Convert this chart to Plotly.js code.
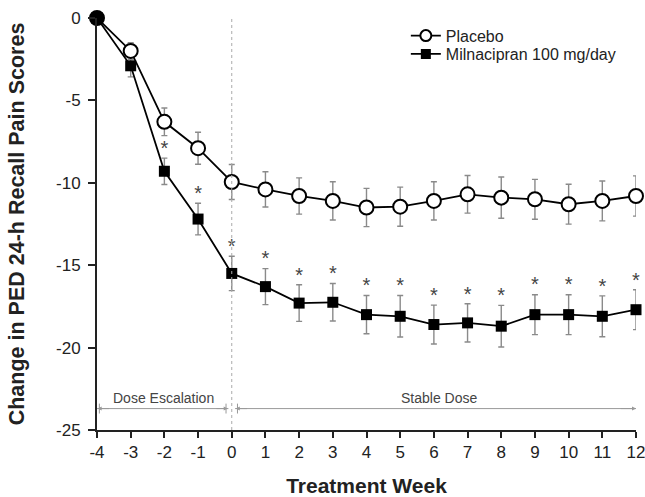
<!DOCTYPE html>
<html>
<head>
<meta charset="utf-8">
<script src="https://cdn.plot.ly/plotly-3.0.1.min.js"></script>
<style>html,body{margin:0;padding:0;background:#fff;}#chart{width:645px;height:497px;}</style>
</head>
<body>
<div id="chart"></div>
<script>
const weeks = [-4,-3,-2,-1,0,1,2,3,4,5,6,7,8,9,10,11,12];
const placebo = [0,-2.0,-6.3,-7.9,-9.95,-10.4,-10.8,-11.1,-11.5,-11.45,-11.1,-10.7,-10.9,-11.0,-11.3,-11.1,-10.8];
const placeboErr = [0,0.5,0.84,0.97,1.06,1.07,1.1,1.16,1.16,1.19,1.16,1.14,1.25,1.21,1.21,1.21,1.22];
const milna = [0,-2.9,-9.3,-12.2,-15.5,-16.3,-17.3,-17.25,-18.0,-18.1,-18.6,-18.5,-18.7,-18.0,-18.0,-18.1,-17.7];
const milnaErr = [0,0.67,0.8,0.96,1.04,1.09,1.11,1.14,1.16,1.26,1.18,1.16,1.26,1.21,1.21,1.24,1.21];
const sigWeeks = [-2,-1,0,1,2,3,4,5,6,7,8,9,10,11,12];
const yTicks = [0,-5,-10,-15,-20,-25];
const xTicks = weeks;
const seriesNames = ['Placebo', 'Milnacipran 100 mg/day'];

const font = "Liberation Sans, Arial, Helvetica, sans-serif";
const sigY = sigWeeks.map(w => { const i = weeks.indexOf(w); return milna[i] + milnaErr[i] + 0.5; });

const traces = [
  {
    x: weeks, y: milna, type: 'scatter', mode: 'lines+markers', showlegend: false,
    cliponaxis: false,
    line: {color: '#000', width: 1.8},
    marker: {symbol: 'square', size: 11, color: '#000'},
    error_y: {type: 'data', array: milnaErr, visible: true, color: '#8a8a8a', thickness: 1.4, width: 3}
  },
  {
    x: weeks, y: placebo, type: 'scatter', mode: 'lines+markers', showlegend: false,
    cliponaxis: false,
    line: {color: '#000', width: 1.8},
    marker: {symbol: 'circle', size: 14, color: weeks.map((w,i)=> i===0 ? '#000' : '#fff'), line: {color: '#000', width: 2}},
    error_y: {type: 'data', array: placeboErr, visible: true, color: '#8a8a8a', thickness: 1.4, width: 3}
  },
  {
    x: sigWeeks, y: sigY, type: 'scatter', mode: 'text', text: sigWeeks.map(()=>'*'),
    textposition: 'middle center', showlegend: false, hoverinfo: 'skip', cliponaxis: false,
    textfont: {family: font, size: 20, color: '#444'}
  },
  {
    x: [null], y: [null], name: seriesNames[0], type: 'scatter', mode: 'lines+markers', legend: 'legend',
    line: {color: '#000', width: 1.8},
    marker: {symbol: 'circle', size: 11, color: '#fff', line: {color: '#000', width: 2}}
  },
  {
    x: [null], y: [null], name: seriesNames[1], type: 'scatter', mode: 'lines+markers', legend: 'legend2',
    line: {color: '#000', width: 1.8},
    marker: {symbol: 'square', size: 10, color: '#000'}
  }
];

const legendBase = {xanchor: 'left', yanchor: 'middle', bgcolor: 'rgba(0,0,0,0)', itemwidth: 30,
                    font: {family: font, size: 16, color: '#222'}};

const layout = {
  width: 645, height: 497,
  margin: {l: 97, r: 9, t: 18, b: 67},
  paper_bgcolor: '#fff', plot_bgcolor: '#fff',
  font: {family: font, color: '#222'},
  showlegend: true,
  legend: Object.assign({x: 0.573, y: 0.957}, legendBase),
  legend2: Object.assign({x: 0.573, y: 0.9126}, legendBase),
  xaxis: {
    range: [-4, 12], tickvals: xTicks, ticktext: xTicks.map(String),
    showgrid: false, zeroline: false, showline: true, linecolor: '#222', linewidth: 2,
    ticks: 'outside', ticklen: 6, tickwidth: 2, tickcolor: '#222', ticklabeloverflow: 'allow',
    tickfont: {family: font, size: 17, color: '#222'},
    title: {text: '<b>Treatment Week</b>', font: {family: font, size: 21, color: '#222'}, standoff: 17}
  },
  yaxis: {
    range: [-25, 0], tickvals: yTicks, ticktext: yTicks.map(String),
    showgrid: false, zeroline: false, showline: true, linecolor: '#222', linewidth: 2,
    ticks: 'outside', ticklen: 7, tickwidth: 2, tickcolor: '#222',
    tickfont: {family: font, size: 17, color: '#222'}, ticklabelstandoff: 4,
    title: {text: '<b>Change in PED 24-h Recall Pain Scores</b>', font: {family: font, size: 21.5, color: '#222'}, standoff: 25}
  },
  shapes: [
    {type: 'line', xref: 'x', yref: 'paper', x0: 0, x1: 0, y0: 0, y1: 1, line: {color: '#aaa', width: 1, dash: 'dot'}},
    {type: 'line', xref: 'x', yref: 'y', x0: -4, x1: -0.1, y0: -23.7, y1: -23.7, line: {color: '#999', width: 1}},
    {type: 'line', xref: 'x', yref: 'y', x0: 0.1, x1: 12, y0: -23.7, y1: -23.7, line: {color: '#999', width: 1}},
    {type: 'line', xref: 'x', yref: 'y', x0: -3.93, x1: -3.93, y0: -23.4, y1: -24.0, line: {color: '#999', width: 1}},
    {type: 'line', xref: 'x', yref: 'y', x0: -0.17, x1: -0.17, y0: -23.4, y1: -24.0, line: {color: '#999', width: 1}},
    {type: 'line', xref: 'x', yref: 'y', x0: 0.17, x1: 0.17, y0: -23.4, y1: -24.0, line: {color: '#999', width: 1}}
  ],
  annotations: [
    {x: -2.02, y: -23.05, xref: 'x', yref: 'y', text: 'Dose Escalation', showarrow: false, font: {family: font, size: 14, color: '#444'}},
    {x: 6.14, y: -23.05, xref: 'x', yref: 'y', text: 'Stable Dose', showarrow: false, font: {family: font, size: 14, color: '#444'}},
    {x: -3.98, y: -23.7, ax: -3.6, ay: -23.7, xref: 'x', yref: 'y', axref: 'x', ayref: 'y', text: '', showarrow: true, arrowhead: 2, arrowsize: 0.8, arrowwidth: 1, arrowcolor: '#999'},
    {x: -0.12, y: -23.7, ax: -0.5, ay: -23.7, xref: 'x', yref: 'y', axref: 'x', ayref: 'y', text: '', showarrow: true, arrowhead: 2, arrowsize: 0.8, arrowwidth: 1, arrowcolor: '#999'},
    {x: 0.12, y: -23.7, ax: 0.5, ay: -23.7, xref: 'x', yref: 'y', axref: 'x', ayref: 'y', text: '', showarrow: true, arrowhead: 2, arrowsize: 0.8, arrowwidth: 1, arrowcolor: '#999'},
    {x: 12, y: -23.7, ax: 11.5, ay: -23.7, xref: 'x', yref: 'y', axref: 'x', ayref: 'y', text: '', showarrow: true, arrowhead: 2, arrowsize: 0.8, arrowwidth: 1, arrowcolor: '#999'}
  ]
};

Plotly.newPlot('chart', traces, layout, {displayModeBar: false, staticPlot: true});
</script>
</body>
</html>
